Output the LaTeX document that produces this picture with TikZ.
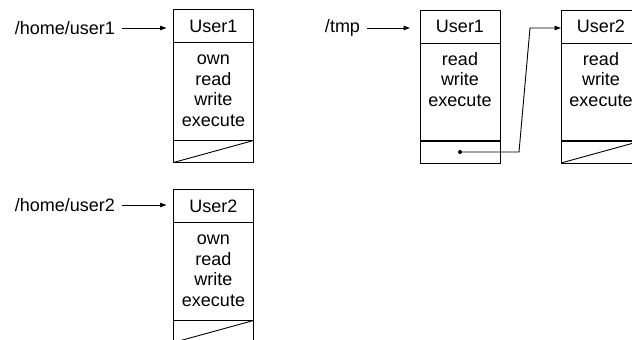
\documentclass[tikz,border=0pt]{standalone}
\usepackage{fontspec}
\setmainfont{Liberation Sans}
\usetikzlibrary{arrows.meta}
\begin{document}
\begin{tikzpicture}[x=1pt,y=-1pt,
  every node/.style={font=\fontsize{18}{20.7}\selectfont, inner sep=0pt, outer sep=0pt},
  frame/.style={draw, line width=0.9pt, minimum width=80pt},
  hdr/.style={frame, minimum height=33pt, anchor=north west},
  bodyfr/.style={frame, minimum height=98pt, anchor=north},
  foot/.style={frame, minimum height=22pt, anchor=north},
  sepline/.style={line width=1.6pt},
  diag/.style={line width=0.9pt},
  lnk/.style={line width=0.9pt, -{Triangle[length=6.5pt,width=4.5pt]}},
  lbl/.style={anchor=east},
  lines/.style={anchor=base},
  dotnode/.style={circle, fill, minimum size=4pt}
]
\useasboundingbox (0,0) rectangle (632,340);
\clip (0,0) rectangle (632,340);

% Box 1: /home/user1
\node[hdr] (b1h) at (173.5,9.5) {User1};
\node[bodyfr] (b1b) at (b1h.south) {};
\node[foot] (b1f) at (b1b.south) {};
\node[lines] (b1t) at ([yshift=-22pt]b1b.north) {\begin{tabular}[t]{@{}c@{}}own\\read\\write\\execute\end{tabular}};
\draw[sepline] (b1b.south west) -- (b1b.south east);
\draw[diag] (b1f.south west) -- (b1f.north east);
\node[lbl] (l1) at (115,28) {/home/user1};
\draw[lnk, shorten <=7pt, shorten >=7pt] (l1.east) -- (l1.east -| b1h.west);

% Box 2: /home/user2
\node[hdr] (b2h) at (173.5,189.5) {User2};
\node[bodyfr] (b2b) at (b2h.south) {};
\node[foot] (b2f) at (b2b.south) {};
\node[lines] (b2t) at ([yshift=-22pt]b2b.north) {\begin{tabular}[t]{@{}c@{}}own\\read\\write\\execute\end{tabular}};
\draw[sepline] (b2b.south west) -- (b2b.south east);
\draw[diag] (b2f.south west) -- (b2f.north east);
\node[lbl] (l2) at (115,205) {/home/user2};
\draw[lnk, shorten <=7pt, shorten >=7pt] (l2.east) -- (l2.east -| b2h.west);

% Box 3: /tmp User1
\node[hdr] (b3h) at (420,10) {User1};
\node[bodyfr] (b3b) at (b3h.south) {};
\node[foot] (b3f) at (b3b.south) {};
\node[lines] (b3t) at ([yshift=-22pt]b3b.north) {\begin{tabular}[t]{@{}c@{}}read\\write\\execute\end{tabular}};
\draw[sepline] (b3b.south west) -- (b3b.south east);
\node[lbl] (l3) at (360,28) {/tmp};
\draw[lnk, shorten <=7pt, shorten >=10pt] (l3.east) -- (l3.east -| b3h.west);

% Box 4: User2
\node[hdr] (b4h) at (561,10) {User2};
\node[bodyfr] (b4b) at (b4h.south) {};
\node[foot] (b4f) at (b4b.south) {};
\node[lines] (b4t) at ([yshift=-22pt]b4b.north) {\begin{tabular}[t]{@{}c@{}}read\\write\\execute\end{tabular}};
\draw[sepline] (b4b.south west) -- (b4b.south east);
\draw[diag] (b4f.south west) -- (b4f.north east);

% link
\node[dotnode] (dot) at (b3f.center) {};
\coordinate (k1) at (519,152);
\coordinate (k2) at (530,28);
\draw[lnk] (dot.center) -- (k1) -- (k2) -- (k2 -| b4h.west);
\end{tikzpicture}
\end{document}
